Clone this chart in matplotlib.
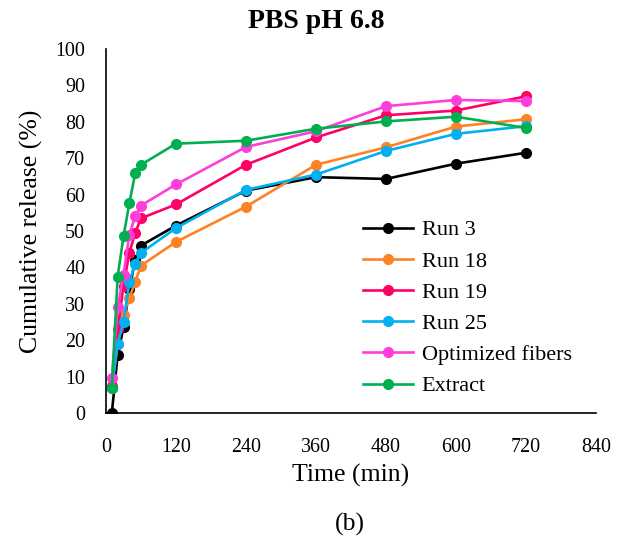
import matplotlib.pyplot as plt

# sampling times (min)
time = [10, 20, 30, 40, 50, 60, 120, 240, 360, 480, 600, 720]

run3 = [0.0, 16.0, 23.5, 34.0, 42.0, 46.0, 51.5, 61.1, 64.8, 64.3, 68.5, 71.5]
run18 = [7.0, 19.0, 27.0, 31.5, 36.0, 40.5, 47.0, 56.7, 68.2, 73.0, 78.7, 80.7]
run19 = [7.5, 23.0, 35.0, 44.0, 49.5, 53.5, 57.3, 68.2, 75.7, 81.8, 83.1, 87.0]
run25 = [7.0, 19.0, 25.0, 36.0, 41.0, 44.0, 50.8, 61.3, 65.5, 72.0, 76.7, 78.8]
optimized = [9.5, 29.0, 38.0, 49.0, 54.0, 57.0, 62.8, 73.1, 77.4, 84.3, 86.0, 85.7]
extract = [7.0, 37.5, 48.5, 57.6, 65.8, 68.2, 74.0, 74.8, 78.1, 80.1, 81.4, 78.3]

series = [
    ("Run 3", run3, "#000000"),
    ("Run 18", run18, "#FF8126"),
    ("Run 19", run19, "#FF0066"),
    ("Run 25", run25, "#00B0F0"),
    ("Optimized fibers", optimized, "#FF3DDB"),
    ("Extract", extract, "#00B050"),
]

x_ticks = [0, 120, 240, 360, 480, 600, 720, 840]
y_ticks = list(range(0, 101, 10))

plt.rcParams['font.family'] = ['Liberation Serif', 'DejaVu Serif']

fig = plt.figure(figsize=(6.21, 5.44), dpi=100)
ax = fig.add_axes([0.1707, 0.2408, 0.789, 0.6691])

for name, vals, col in series:
    ax.plot(time, vals, color=col, lw=1.9, marker='o', ms=7, label=name)

ax.set_xlim(0, 840)
ax.set_ylim(0, 100)
ax.set_xticks(x_ticks)
ax.set_yticks(y_ticks)
ax.tick_params(length=0, labelsize=14.4)
ax.tick_params(axis='x', pad=18)
ax.tick_params(axis='y', pad=15)
ax.spines['top'].set_visible(False)
ax.spines['right'].set_visible(False)
ax.spines['left'].set_linewidth(1.2)
ax.spines['bottom'].set_linewidth(1.2)

fig.text(0.509, 0.960, 'PBS pH 6.8', ha='center', va='center',
         fontsize=20, fontweight='bold')
ax.set_xlabel('Time (min)', fontsize=18.5, labelpad=5)
ax.set_ylabel('Cumulative release (%)', fontsize=18.5, labelpad=9)

ax.legend(loc='upper left', bbox_to_anchor=(0.5845, 0.596),
          bbox_transform=fig.transFigure, frameon=False, borderpad=0,
          borderaxespad=0, fontsize=16, handlelength=2.25,
          labelspacing=0.48, handletextpad=0.4)

fig.text(0.563, 0.036, '(b)', ha='center', va='center', fontsize=18.5)

fig.savefig('out.png', dpi=100)
